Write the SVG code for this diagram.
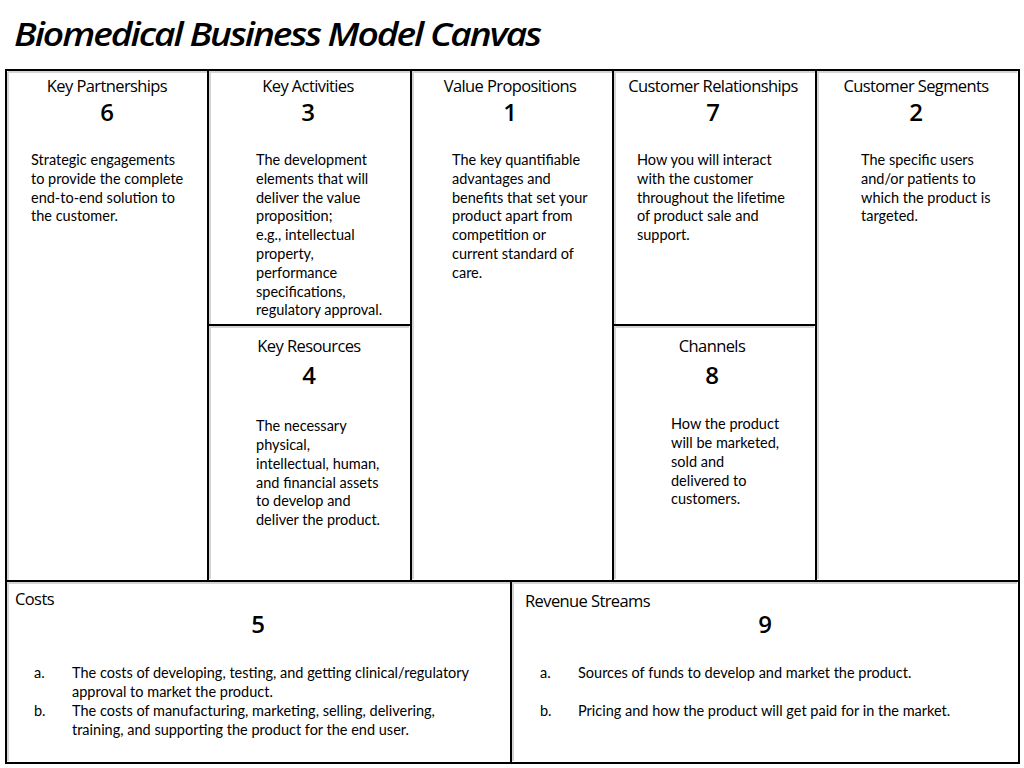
<svg xmlns="http://www.w3.org/2000/svg" width="1024" height="768" viewBox="0 0 1024 768">
<style>
.title{font-family:"Open Sans","Liberation Sans",sans-serif;font-style:italic;font-weight:600;font-size:33px;fill:#000;letter-spacing:-1.8px}
.hd{font-family:"Open Sans","Liberation Sans",sans-serif;font-size:16.5px;font-weight:500;fill:#000;letter-spacing:-0.6px}
.hc{text-anchor:middle}
.num{font-family:"Open Sans","Liberation Sans",sans-serif;font-size:24px;font-weight:600;fill:#000;text-anchor:middle}
.body{font-family:Lato,"Liberation Sans",sans-serif;font-size:14.5px;fill:#000}
.ln{stroke:#000;stroke-width:2;fill:none}
.sh{stroke:#d4d4d4;stroke-width:2;fill:none}
</style>
<rect width="1024" height="768" fill="#fff"/>
<text class="title" x="14" y="46" textLength="526" lengthAdjust="spacingAndGlyphs">Biomedical Business Model Canvas</text>

<g id="grid-shadow">
<path class="sh" d="M8 72H1017M8 583H1017M210 72V579M413 72V579M615 72V579M818 72V579M210 327H409M615 327H814M513 583V761M8 72V761"/>
</g>
<g id="grid">
<rect class="ln" x="6" y="70" width="1013" height="693"/>
<path class="ln" d="M6 581H1019M208 70V581M411 70V581M613 70V581M816 70V581M208 325H411M613 325H816M511 581V763"/>
</g>

<g id="key-partnerships">
<text class="hd hc" x="107" y="92">Key Partnerships</text>
<text class="num" x="107" y="121">6</text>
<text class="body" x="31"><tspan x="31" y="165">Strategic engagements</tspan><tspan x="31" y="184">to provide the complete</tspan><tspan x="31" y="203">end-to-end solution to</tspan><tspan x="31" y="221">the customer.</tspan></text>
</g>

<g id="key-activities">
<text class="hd hc" x="308" y="92">Key Activities</text>
<text class="num" x="308" y="121">3</text>
<text class="body"><tspan x="256" y="165">The development</tspan><tspan x="256" y="184">elements that will</tspan><tspan x="256" y="203">deliver the value</tspan><tspan x="256" y="221">proposition;</tspan><tspan x="256" y="240">e.g., intellectual</tspan><tspan x="256" y="259">property,</tspan><tspan x="256" y="278">performance</tspan><tspan x="256" y="297">specifications,</tspan><tspan x="256" y="315">regulatory approval.</tspan></text>
</g>

<g id="value-propositions">
<text class="hd hc" x="510" y="92">Value Propositions</text>
<text class="num" x="510" y="121">1</text>
<text class="body"><tspan x="452" y="165">The key quantifiable</tspan><tspan x="452" y="184">advantages and</tspan><tspan x="452" y="203">benefits that set your</tspan><tspan x="452" y="221">product apart from</tspan><tspan x="452" y="240">competition or</tspan><tspan x="452" y="259">current standard of</tspan><tspan x="452" y="278">care.</tspan></text>
</g>

<g id="customer-relationships">
<text class="hd hc" x="713" y="92">Customer Relationships</text>
<text class="num" x="713" y="121">7</text>
<text class="body"><tspan x="637" y="165">How you will interact</tspan><tspan x="637" y="184">with the customer</tspan><tspan x="637" y="203">throughout the lifetime</tspan><tspan x="637" y="221">of product sale and</tspan><tspan x="637" y="240">support.</tspan></text>
</g>

<g id="customer-segments">
<text class="hd hc" x="916" y="92">Customer Segments</text>
<text class="num" x="916" y="121">2</text>
<text class="body"><tspan x="861" y="165">The specific users</tspan><tspan x="861" y="184">and/or patients to</tspan><tspan x="861" y="203">which the product is</tspan><tspan x="861" y="221">targeted.</tspan></text>
</g>

<g id="key-resources">
<text class="hd hc" x="309" y="352">Key Resources</text>
<text class="num" x="309" y="384">4</text>
<text class="body"><tspan x="256" y="431">The necessary</tspan><tspan x="256" y="450">physical,</tspan><tspan x="256" y="469">intellectual, human,</tspan><tspan x="256" y="488">and financial assets</tspan><tspan x="256" y="506">to develop and</tspan><tspan x="256" y="525">deliver the product.</tspan></text>
</g>

<g id="channels">
<text class="hd hc" x="712" y="352">Channels</text>
<text class="num" x="712" y="384">8</text>
<text class="body"><tspan x="671" y="429">How the product</tspan><tspan x="671" y="448">will be marketed,</tspan><tspan x="671" y="467">sold and</tspan><tspan x="671" y="486">delivered to</tspan><tspan x="671" y="504">customers.</tspan></text>
</g>

<g id="costs">
<text class="hd" x="15" y="605">Costs</text>
<text class="num" x="258" y="633">5</text>
<text class="body"><tspan x="34" y="678">a.</tspan><tspan x="72" y="678">The costs of developing, testing, and getting clinical/regulatory</tspan><tspan x="72" y="697">approval to market the product.</tspan><tspan x="34" y="716">b.</tspan><tspan x="72" y="716">The costs of manufacturing, marketing, selling, delivering,</tspan><tspan x="72" y="735">training, and supporting the product for the end user.</tspan></text>
</g>

<g id="revenue-streams">
<text class="hd" x="525" y="607">Revenue Streams</text>
<text class="num" x="765" y="633">9</text>
<text class="body"><tspan x="540" y="678">a.</tspan><tspan x="578" y="678">Sources of funds to develop and market the product.</tspan><tspan x="540" y="716">b.</tspan><tspan x="578" y="716">Pricing and how the product will get paid for in the market.</tspan></text>
</g>

<g id="connectors"/>
</svg>
